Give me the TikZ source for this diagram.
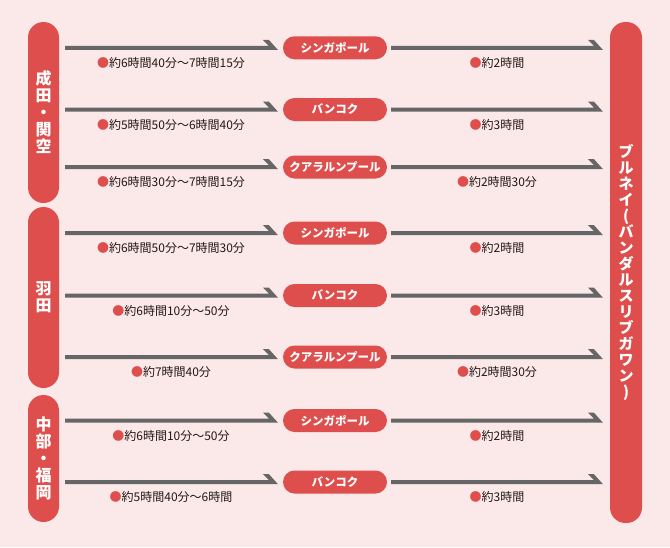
\documentclass[tikz,border=0pt]{standalone}
\usepackage{fontspec}
\usetikzlibrary{calc}
\newfontfamily\jp{Noto Sans CJK JP}
\definecolor{bgc}{HTML}{FBE9E9}
\definecolor{rd}{HTML}{DE4E4C}
\definecolor{gr}{HTML}{666666}
\definecolor{tx}{HTML}{231815}
\newcommand\harrow[4]{%
  \coordinate (S) at ($(#1)+(#2,0)$);
  \coordinate (T) at ($(#3)+(#4,0)$);
  \fill[gr] ($(S)+(0,-2)$) -- ($(T)+(-9,-2)$) -- ($(T)+(-15,-8)$) -- ($(T)+(-9,-8)$)
    -- ($(T)+(0,2)$) -- ($(S)+(0,2)$) -- cycle;}
\tikzset{
  sidebar/.style={fill=rd, rounded corners=15.5pt, inner sep=0pt, text=white,
    align=center, font=\jp\bfseries\fontsize{16}{17}\selectfont},
  pill/.style={fill=rd, rounded corners=11.5pt, minimum width=104pt, minimum height=23pt,
    inner sep=0pt, text=white, font=\jp\bfseries\fontsize{11.5}{12}\selectfont},
  lbl/.style={inner sep=0pt, text=tx, font=\jp\fontsize{12}{13}\selectfont},
}
\newcommand\rdot{{\color{rd}●}}
\begin{document}
\begin{tikzpicture}[x=1pt,y=-1pt]
\fill[bgc] (0,0) rectangle (670,547);
\useasboundingbox (0,0) rectangle (670,547);
% side bars
\node[sidebar, minimum width=31pt, minimum height=181pt] (lb1) at (43.5,112.5) {成\\田\\・\\関\\空};
\node[sidebar, minimum width=31pt, minimum height=181pt] (lb2) at (43.5,297.5) {羽\\田};
\node[sidebar, minimum width=31pt, minimum height=127pt] (lb3) at (43.5,458.5) {中\\部\\・\\福\\岡};
\node[sidebar, minimum width=32pt, minimum height=501pt, font=\jp\bfseries\fontsize{15}{16}\selectfont] (rb) at (626,272.5)
  {ブ\\ル\\ネ\\イ\\(\\バ\\ン\\ダ\\ル\\ス\\リ\\ブ\\ガ\\ワ\\ン\\)};
% pills
\node[pill] (p1) at (335,47.8) {シンガポール};
\node[pill] (p2) at (335,109.5) {バンコク};
\node[pill] (p3) at (335,167) {クアラルンプール};
\node[pill] (p4) at (335,233) {シンガポール};
\node[pill] (p5) at (335,295.5) {バンコク};
\node[pill] (p6) at (335,357) {クアラルンプール};
\node[pill] (p7) at (335,420.5) {シンガポール};
\node[pill] (p8) at (335,482) {バンコク};
% arrows
\harrow{lb1.east|-p1.west}{6}{p1.west}{-5}
\harrow{p1.east}{4}{rb.west|-p1.east}{-7}
\harrow{lb1.east|-p2.west}{6}{p2.west}{-5}
\harrow{p2.east}{4}{rb.west|-p2.east}{-7}
\harrow{lb1.east|-p3.west}{6}{p3.west}{-5}
\harrow{p3.east}{4}{rb.west|-p3.east}{-7}
\harrow{lb2.east|-p4.west}{6}{p4.west}{-5}
\harrow{p4.east}{4}{rb.west|-p4.east}{-7}
\harrow{lb2.east|-p5.west}{6}{p5.west}{-5}
\harrow{p5.east}{4}{rb.west|-p5.east}{-7}
\harrow{lb2.east|-p6.west}{6}{p6.west}{-5}
\harrow{p6.east}{4}{rb.west|-p6.east}{-7}
\harrow{lb3.east|-p7.west}{6}{p7.west}{-5}
\harrow{p7.east}{4}{rb.west|-p7.east}{-7}
\harrow{lb3.east|-p8.west}{6}{p8.west}{-5}
\harrow{p8.east}{4}{rb.west|-p8.east}{-7}
% labels
\node[lbl] (a1) at (171,62.8) {\rdot 約6時間40分〜7時間15分};
\node[lbl] (b1) at (497,62.8) {\rdot 約2時間};
\node[lbl] (a2) at (171,124.5) {\rdot 約5時間50分〜6時間40分};
\node[lbl] (b2) at (497,124.5) {\rdot 約3時間};
\node[lbl] (a3) at (171,182) {\rdot 約6時間30分〜7時間15分};
\node[lbl] (b3) at (497,182) {\rdot 約2時間30分};
\node[lbl] (a4) at (171,248) {\rdot 約6時間50分〜7時間30分};
\node[lbl] (b4) at (497,248) {\rdot 約2時間};
\node[lbl] (a5) at (171,310.5) {\rdot 約6時間10分〜50分};
\node[lbl] (b5) at (497,310.5) {\rdot 約3時間};
\node[lbl] (a6) at (171,372) {\rdot 約7時間40分};
\node[lbl] (b6) at (497,372) {\rdot 約2時間30分};
\node[lbl] (a7) at (171,435.5) {\rdot 約6時間10分〜50分};
\node[lbl] (b7) at (497,435.5) {\rdot 約2時間};
\node[lbl] (a8) at (171,497) {\rdot 約5時間40分〜6時間};
\node[lbl] (b8) at (497,497) {\rdot 約3時間};
\end{tikzpicture}
\end{document}
